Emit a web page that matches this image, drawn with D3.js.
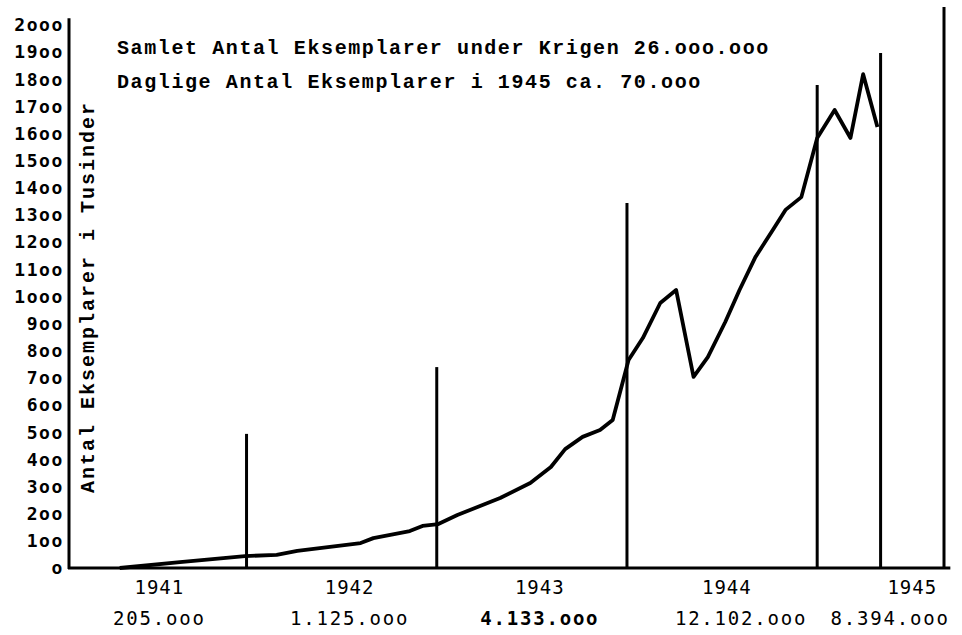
<!DOCTYPE html>
<html>
<head>
<meta charset="utf-8">
<script src="https://cdn.jsdelivr.net/npm/d3@7"></script>
<style>
  body { margin: 0; background: #fff; }
  svg { display: block; }
  .mono { font-family: "Liberation Mono", "DejaVu Sans Mono", monospace; font-weight: bold; }
  .gothic { font-family: "DejaVu Sans Mono", monospace; }
</style>
</head>
<body>
<svg id="chart"></svg>
<script>
// months counted from Jan 1941 (0), values in thousands of copies
var lineMonths = [4.0, 7.8, 11.9, 13.9, 15.2, 19.2, 20.0, 22.3, 23.1, 24.1, 25.3, 28.0, 29.9, 31.2, 32.1, 33.2, 34.3, 35.1,
                  36.1, 37.0, 38.1, 39.1, 40.2, 41.1, 42.2, 43.1, 44.1, 45.2, 46.0, 47.0, 48.0, 49.1, 50.1, 50.9, 51.8];
var lineValues = [0, 22, 44, 48, 63, 92, 110, 136, 155, 162, 195, 258, 313, 372, 438, 483, 508, 545,
                  766, 847, 976, 1024, 704, 777, 906, 1024, 1145, 1245, 1319, 1366, 1584, 1687, 1584, 1819, 1624];

// vertical year dividers
var dividerMonths = [12, 24, 36, 48, 52, 56];
var dividerTops = [494, 740, 1344, 1779, 1897, 2066];

var years = ["1941", "1942", "1943", "1944", "1945"];
var yearLabelMonths = [6.5, 18.5, 30.5, 42.3, 54.0];
var yearTotals = ["205.ooo", "1.125.ooo", "4.133.ooo", "12.102.ooo", "8.394.ooo"];
var totalLabelMonths = [6.5, 18.5, 30.5, 43.2, 52.6];

var yTicks = d3.range(0, 2001, 100);

var titleLines = ["Samlet Antal Eksemplarer under Krigen 26.ooo.ooo",
                  "Daglige Antal Eksemplarer i 1945 ca. 70.ooo"];
var yTitle = "Antal Eksemplarer i Tusinder";

var width = 962, height = 635;
var svg = d3.select("#chart").attr("width", width).attr("height", height);

var xScale = d3.scaleLinear().domain([0.8, 56]).range([69, 944]);
var yScale = d3.scaleLinear().domain([0, 2000]).range([568, 25]);

// y axis, labels only
var yAxis = d3.axisLeft(yScale)
    .tickValues(yTicks)
    .tickSize(0)
    .tickPadding(5)
    .tickFormat(function (d) { return String(d).replace(/0/g, "o"); });

var gy = svg.append("g")
    .attr("transform", "translate(" + xScale(0.8) + ",0)")
    .call(yAxis);
gy.select(".domain").remove();
gy.selectAll("text")
    .attr("class", "gothic")
    .attr("font-size", 18)
    .attr("font-weight", "bold")
    .attr("letter-spacing", 1.6)
    .attr("fill", "#000");

// axis lines
svg.append("line")
    .attr("x1", xScale(0.8)).attr("x2", xScale(0.8))
    .attr("y1", yScale(2025)).attr("y2", yScale(0) + 1)
    .attr("stroke", "#000").attr("stroke-width", 3);
svg.append("line")
    .attr("x1", xScale(0.8) - 1).attr("x2", xScale(56.4))
    .attr("y1", yScale(0)).attr("y2", yScale(0))
    .attr("stroke", "#000").attr("stroke-width", 3);

// dividers
svg.selectAll(".divider")
    .data(dividerMonths)
    .enter()
    .append("line")
    .attr("class", "divider")
    .attr("x1", function (d) { return xScale(d); })
    .attr("x2", function (d) { return xScale(d); })
    .attr("y1", yScale(0))
    .attr("y2", function (d, i) { return yScale(dividerTops[i]); })
    .attr("stroke", "#000")
    .attr("stroke-width", 3);

// circulation line
var line = d3.line()
    .x(function (d, i) { return xScale(lineMonths[i]); })
    .y(function (d) { return yScale(d); });

svg.append("path")
    .datum(lineValues)
    .attr("d", line)
    .attr("fill", "none")
    .attr("stroke", "#000")
    .attr("stroke-width", 3.8)
    .attr("stroke-linejoin", "round");

// year labels and totals
svg.selectAll(".year")
    .data(years)
    .enter()
    .append("text")
    .attr("class", "gothic")
    .attr("x", function (d, i) { return xScale(yearLabelMonths[i]); })
    .attr("y", 594)
    .attr("text-anchor", "middle")
    .attr("font-size", 19)
    .attr("letter-spacing", 1)
    .text(function (d) { return d; });

svg.selectAll(".total")
    .data(yearTotals)
    .enter()
    .append("text")
    .attr("class", "gothic")
    .attr("x", function (d, i) { return xScale(totalLabelMonths[i]); })
    .attr("y", 625)
    .attr("text-anchor", "middle")
    .attr("font-size", 19)
    .attr("font-weight", function (d, i) { return i === 2 ? "bold" : "normal"; })
    .attr("letter-spacing", 1.8)
    .text(function (d) { return d; });

// titles
svg.selectAll(".title")
    .data(titleLines)
    .enter()
    .append("text")
    .attr("class", "mono")
    .attr("x", 117)
    .attr("y", function (d, i) { return 54 + i * 34; })
    .attr("font-size", 20)
    .attr("letter-spacing", 1.6)
    .text(function (d) { return d; });

svg.append("text")
    .attr("class", "mono")
    .attr("transform", "translate(94,297) rotate(-90)")
    .attr("text-anchor", "middle")
    .attr("font-size", 20)
    .attr("letter-spacing", 2)
    .text(yTitle);
</script>
</body>
</html>
